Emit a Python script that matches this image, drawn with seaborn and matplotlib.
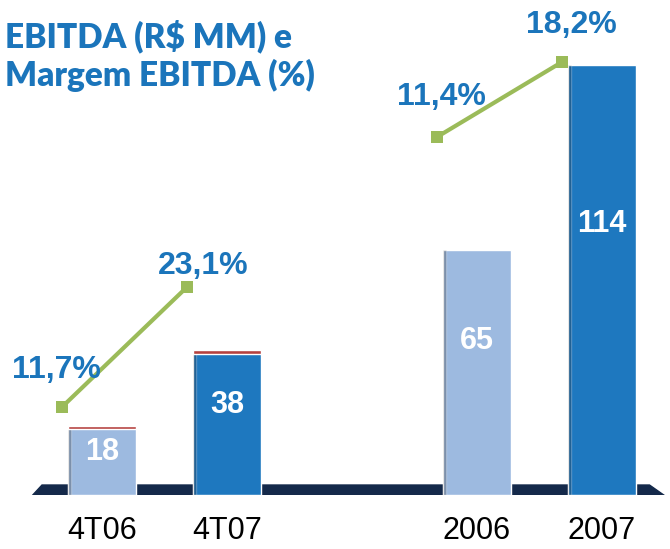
import numpy as np
import pandas as pd
import matplotlib
matplotlib.use('Agg')
import matplotlib.pyplot as plt
import seaborn as sns

# data
categories = ['4T06', '4T07', '2006', '2007']
positions = [0, 1, 3, 4]
ebitda = [18, 38, 65, 114]
margem_tri = [11.7, 23.1]
margem_ano = [11.4, 18.2]
margem_labels_tri = ['11,7%', '23,1%']
margem_labels_ano = ['11,4%', '18,2%']
title_lines = ['EBITDA (R$ MM) e', 'Margem EBITDA (%)']

bar_colors = ['#9DBAE0', '#1E78BF', '#9DBAE0', '#1E78BF']
blue_txt = '#1B75BB'
green = '#9BBB59'

sns.set_theme(style='white')
plt.rcParams['font.family'] = ['Liberation Sans', 'DejaVu Sans']

df = pd.DataFrame({'pos': positions, 'ebitda': ebitda, 'cat': categories})

fig = plt.figure(figsize=(6.70, 5.49), dpi=100)
ax = fig.add_axes([0, 54 / 549, 1, 495 / 549])

# floor
ax.fill([-0.48, 4.38, 4.528, -0.576], [2.65, 2.65, -0.8, -0.8],
        color='#14294A', zorder=1)

sns.barplot(data=df, x='pos', y='ebitda', hue='cat', palette=bar_colors,
            native_scale=True, dodge=False, width=0.55, legend=False,
            saturation=1, ax=ax, zorder=2)

# slight shading on the left side of the bars
for p, v in zip(positions, ebitda):
    ax.bar(p - 0.26, v, width=0.03, color='black', alpha=0.25, zorder=3)

# red caps on the quarterly bars
for p, v in zip(positions[:2], ebitda[:2]):
    ax.bar(p, 1.0, bottom=v - 0.6, width=0.55, color='#B5413F', zorder=3)

for p, v in zip(positions, ebitda):
    ax.text(p, v * 0.63, str(v), color='white', fontsize=22, fontweight='bold',
            ha='center', va='center', zorder=4)

ax.set_xlim(-0.816, 4.544)
ax.set_ylim(0, 131.3)
ax.set_xticks(positions)
ax.set_xticklabels(categories, fontsize=22, color='black')
ax.tick_params(axis='x', length=0, pad=15)
ax.set_yticks([])
ax.set_xlabel('')
ax.set_ylabel('')
sns.despine(ax=ax, left=True, bottom=True)

# margin lines, each pair on its own scale
ax2 = ax.twinx()
ax2.set_ylim(3.34, 50.37)
ax3 = ax.twinx()
ax3.set_ylim(-21.06, 23.82)
offs = [(-6, 37), (16, 21), (4, 40), (9, 37)]
for axm, xs, ys, labs, o in [(ax2, positions[:2], margem_tri, margem_labels_tri, offs[:2]),
                             (ax3, positions[2:], margem_ano, margem_labels_ano, offs[2:])]:
    xl = [x - 0.32 for x in xs]
    sns.lineplot(x=xl, y=ys, ax=axm, color=green, linewidth=3, marker='s',
                 markersize=9, markeredgewidth=0)
    for x, y, t, (dx, dy) in zip(xl, ys, labs, o):
        axm.annotate(t, (x, y), xytext=(dx, dy), textcoords='offset pixels',
                     ha='center', va='center', fontsize=23, fontweight='bold',
                     color=blue_txt)
    axm.set_yticks([])
    axm.set_ylabel('')
    for s in axm.spines.values():
        s.set_visible(False)

for line, base in zip(title_lines, [47, 86]):
    fig.text(5 / 670, 1 - base / 549, line, fontsize=24, fontweight='heavy',
             color=blue_txt, family='Lato', ha='left', va='baseline')

fig.savefig('out.png', dpi=100)
